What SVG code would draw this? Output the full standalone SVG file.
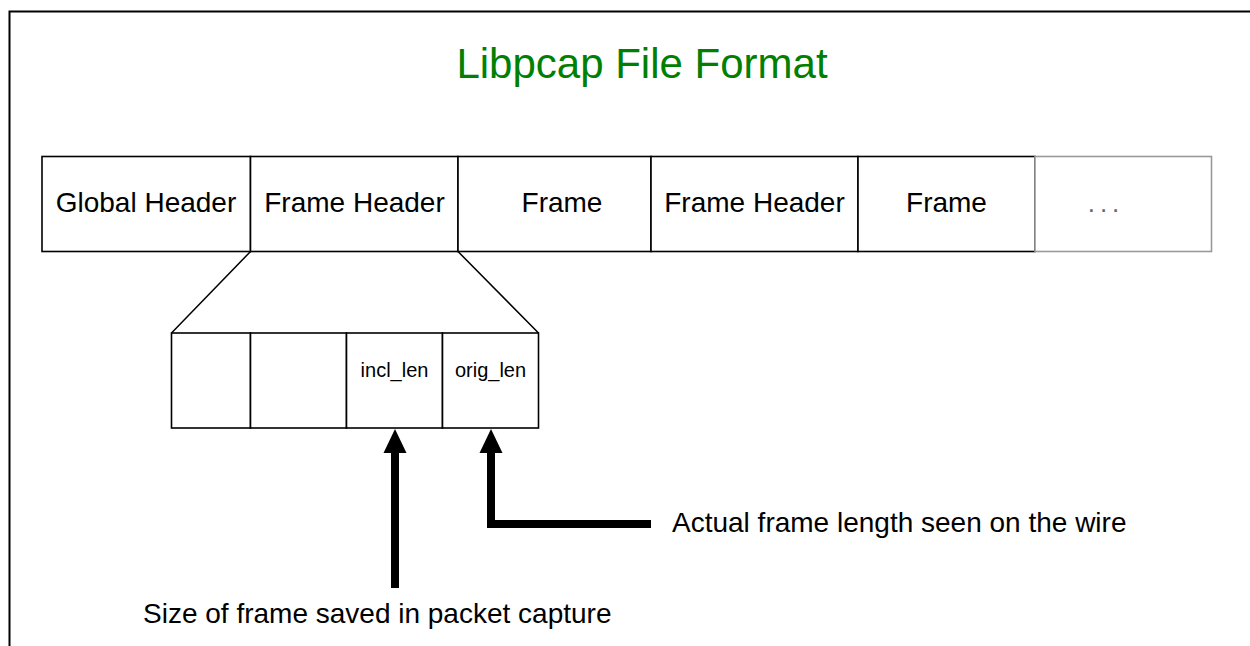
<svg xmlns="http://www.w3.org/2000/svg" width="1250" height="646" viewBox="0 0 1250 646">
<style>
text{font-family:"Liberation Sans",Arial,sans-serif;fill:#000}
.box{fill:#fff;stroke:#000;stroke-width:1.6}
.gbox{fill:#fff;stroke:#999;stroke-width:1.6}
.lbl{font-size:28px;text-anchor:middle}
.sm{font-size:20px;text-anchor:middle}
.ln{fill:none;stroke:#000;stroke-width:1.5}
.thick{fill:none;stroke:#000;stroke-width:8;stroke-linejoin:miter}
</style>
<rect x="9.5" y="11.5" width="1260" height="660" fill="#fff" stroke="#000" stroke-width="2"/>
<text id="title" x="642" y="78" font-size="42" text-anchor="middle" style="fill:#008000">Libpcap File Format</text>
<g id="global-header"><rect class="box" x="42" y="156.5" width="208.5" height="95"/><text class="lbl" x="146" y="212">Global Header</text></g>
<g id="frame-header-1"><rect class="box" x="250.5" y="156.5" width="207.5" height="95"/><text class="lbl" x="354.5" y="212">Frame Header</text></g>
<g id="frame-1"><rect class="box" x="458" y="156.5" width="193" height="95"/><text class="lbl" x="562" y="212">Frame</text></g>
<g id="frame-header-2"><rect class="box" x="651" y="156.5" width="207" height="95"/><text class="lbl" x="754.5" y="212">Frame Header</text></g>
<g id="frame-2"><rect class="box" x="858" y="156.5" width="177" height="95"/><text class="lbl" x="946.5" y="212">Frame</text></g>
<g id="more"><rect class="gbox" x="1035" y="156.5" width="176.5" height="95"/><text x="1106" y="212" font-size="26" text-anchor="middle" letter-spacing="5" style="fill:#666">...</text></g>
<g id="fields">
<rect class="box" x="171.5" y="333" width="79" height="95"/>
<rect class="box" x="250.5" y="333" width="96" height="95"/>
<rect class="box" x="346.5" y="333" width="96" height="95"/>
<rect class="box" x="442.5" y="333" width="96" height="95"/>
<text class="sm" x="394.5" y="377">incl_len</text>
<text class="sm" x="490.5" y="377">orig_len</text>
</g>
<g id="connectors">
<path class="ln" d="M250.5 251.5 L171.5 333 M458 251.5 L538.5 333"/>
<path class="thick" d="M395 450 V588"/>
<polygon points="383.5,453 406.5,453 395,429"/>
<path class="thick" d="M491 450 V524 H651"/>
<polygon points="479.5,453 502.5,453 491,429"/>
</g>
<text id="lbl-incl" x="143" y="623" font-size="28">Size of frame saved in packet capture</text>
<text id="lbl-orig" x="672" y="532" font-size="28">Actual frame length seen on the wire</text>
</svg>
